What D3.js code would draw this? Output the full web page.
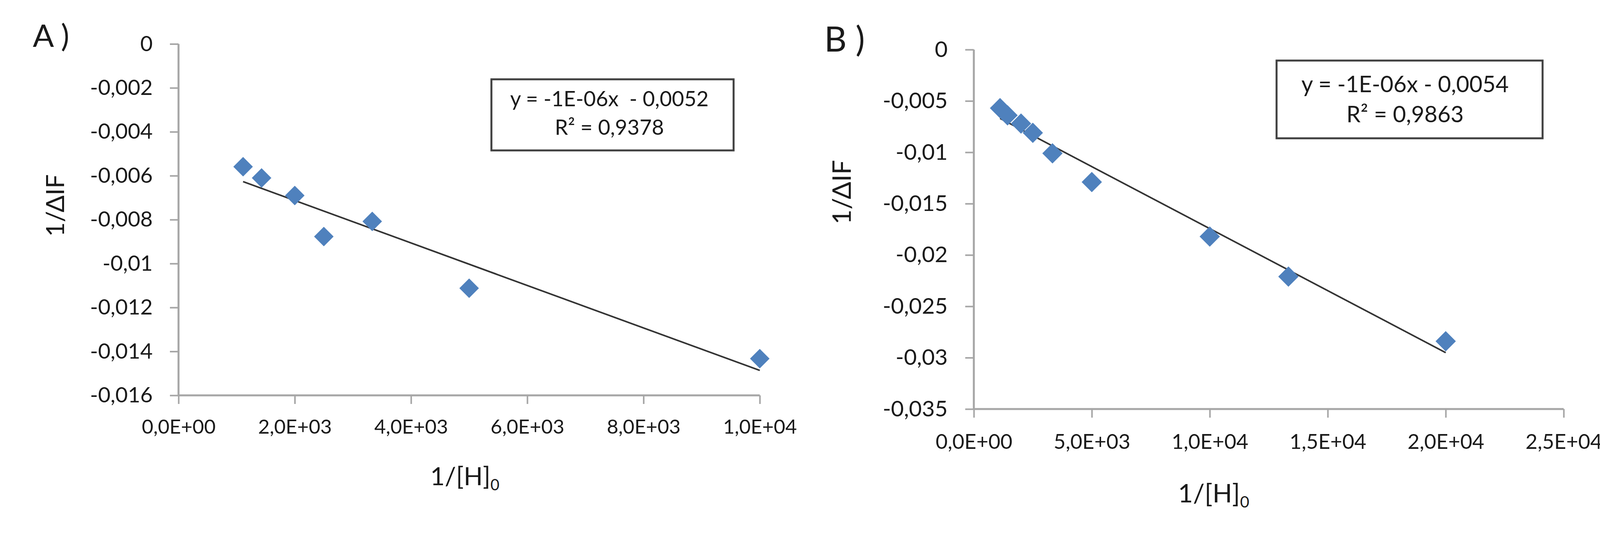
<!DOCTYPE html>
<html>
<head>
<meta charset="utf-8">
<script src="https://cdn.jsdelivr.net/npm/d3@7/dist/d3.min.js"></script>
<style>
  html, body { margin: 0; padding: 0; background: #ffffff; }
  svg { display: block; font-family: Lato, "Open Sans", "Liberation Sans", sans-serif; }
  text { white-space: pre; }
</style>
</head>
<body>
<svg id="chart" width="4268" height="1372"></svg>
<script>
// ---------------- data ----------------
const panelLabels = ["A )", "B )"];

const xA = [1111, 1429, 2000, 2500, 3333, 5000, 10000];
const yA = [-0.00559, -0.0061, -0.0069, -0.00877, -0.00808, -0.01112, -0.01433];

const xB = [1111, 1429, 2000, 2500, 3333, 5000, 10000, 13333, 20000];
const yB = [-0.0057, -0.0064, -0.0072, -0.0081, -0.0101, -0.0129, -0.0182, -0.0221, -0.0284];

const xTicksA = [0, 2000, 4000, 6000, 8000, 10000];
const yTicksA = [0, -0.002, -0.004, -0.006, -0.008, -0.01, -0.012, -0.014, -0.016];
const xTicksB = [0, 5000, 10000, 15000, 20000, 25000];
const yTicksB = [0, -0.005, -0.01, -0.015, -0.02, -0.025, -0.03, -0.035];

const equationA = ["y = -1E-06x  - 0,0052", "R\u00B2 = 0,9378"];
const equationB = ["y = -1E-06x - 0,0054", "R\u00B2 = 0,9863"];

const xTitle = "1/[H]";
const xTitleSub = "0";
const yTitle = "1/\u0394IF";

// ---------------- helpers ----------------
const locale = d3.formatLocale({decimal: ",", thousands: ".", grouping: [3], currency: ["", ""], minus: "-"});
const fmtY = v => v === 0 ? "0" : locale.format("~r")(v);
const fmtX = v => {
  const s = v.toExponential(1);          // e.g. 2.0e+3
  const [m, e] = s.split("e");
  const sign = e[0] === "-" ? "-" : "+";
  const ex = String(Math.abs(+e)).padStart(2, "0");
  return m.replace(".", ",") + "E" + sign + ex;
};

const diamond = {
  draw(ctx, size) {
    const r = Math.sqrt(size / 2);
    ctx.moveTo(0, -r); ctx.lineTo(r, 0); ctx.lineTo(0, r); ctx.lineTo(-r, 0); ctx.closePath();
  }
};

function linreg(xs, ys) {
  const mx = d3.mean(xs), my = d3.mean(ys);
  let sxy = 0, sxx = 0;
  xs.forEach((x, i) => { sxy += (x - mx) * (ys[i] - my); sxx += (x - mx) * (x - mx); });
  const b = sxy / sxx;
  return {slope: b, intercept: my - b * mx};
}

const svg = d3.select("#chart");
svg.append("rect").attr("width", 4268).attr("height", 1372).attr("fill", "#ffffff");

const AXIS = "#a6a6a6";
const TEXT = "#1a1a1a";
const MARK = "#4f81bd";

function drawPanel(cfg) {
  const g = svg.append("g");
  const x = d3.scaleLinear().domain(cfg.xDomain).range([cfg.left, cfg.right]);
  const y = d3.scaleLinear().domain(cfg.yDomain).range([cfg.bottom, cfg.top]);

  // y axis
  const ya = g.append("g").attr("transform", `translate(${cfg.left},0)`)
    .call(d3.axisLeft(y).tickValues(cfg.yTicks).tickFormat(fmtY).tickSize(22).tickPadding(cfg.yPad));
  // x axis
  const xa = g.append("g").attr("transform", `translate(0,${cfg.bottom})`)
    .call(d3.axisBottom(x).tickValues(cfg.xTicks).tickFormat(fmtX).tickSize(22).tickPadding(cfg.xPad));

  [ya, xa].forEach(a => {
    a.select(".domain").attr("stroke", AXIS).attr("stroke-width", 5);
    a.selectAll(".tick line").attr("stroke", AXIS).attr("stroke-width", 4);
    a.selectAll(".tick text").attr("fill", TEXT).attr("font-family", "Lato");
  });
  ya.selectAll(".tick text").attr("font-size", cfg.yFont);
  xa.selectAll(".tick text").attr("font-size", cfg.xFont);
  // remove the outer tick stubs so only real ticks show
  ya.select(".domain").attr("d", `M0,${cfg.bottom}V${cfg.top}`);
  xa.select(".domain").attr("d", `M${cfg.left},0H${cfg.right}`);

  // trend line (least squares from data)
  const fit = linreg(cfg.xs, cfg.ys);
  const x0 = d3.min(cfg.xs), x1 = d3.max(cfg.xs);
  g.append("line")
    .attr("x1", x(x0)).attr("y1", y(fit.intercept + fit.slope * x0))
    .attr("x2", x(x1)).attr("y2", y(fit.intercept + fit.slope * x1))
    .attr("stroke", "#333333").attr("stroke-width", 4);

  // points
  g.selectAll("path.pt").data(cfg.xs.map((v, i) => [v, cfg.ys[i]])).join("path")
    .attr("class", "pt")
    .attr("transform", d => `translate(${x(d[0])},${y(d[1])})`)
    .attr("d", d3.symbol().type(diamond).size(2 * cfg.r * cfg.r))
    .attr("fill", MARK);

  // equation box
  g.append("rect")
    .attr("x", cfg.box[0]).attr("y", cfg.box[1])
    .attr("width", cfg.box[2] - cfg.box[0]).attr("height", cfg.box[3] - cfg.box[1])
    .attr("fill", "#ffffff").attr("stroke", "#404040").attr("stroke-width", 5);
  cfg.eq.forEach((t, i) => {
    g.append("text").attr("x", cfg.eqX).attr("y", cfg.eqY[i])
      .attr("text-anchor", "middle").attr("font-size", cfg.eqFont)
      .attr("fill", TEXT).text(t);
  });

  // axis titles
  const xt = g.append("text").attr("x", cfg.xTitlePos[0]).attr("y", cfg.xTitlePos[1])
    .attr("text-anchor", "middle").attr("font-size", cfg.titleFont).attr("fill", TEXT);
  xt.append("tspan").text(xTitle);
  xt.append("tspan").attr("font-size", cfg.titleFont * 0.62).attr("dy", cfg.titleFont * 0.2).text(xTitleSub);

  g.append("text")
    .attr("transform", `translate(${cfg.yTitlePos[0]},${cfg.yTitlePos[1]}) rotate(-90)`)
    .attr("text-anchor", "middle").attr("font-size", cfg.titleFont).attr("fill", TEXT)
    .text(yTitle);

  // panel label
  g.append("text").attr("x", cfg.labelPos[0]).attr("y", cfg.labelPos[1])
    .attr("font-size", cfg.labelFont).attr("fill", TEXT).text(cfg.label);
}

drawPanel({
  xs: xA, ys: yA, xTicks: xTicksA, yTicks: yTicksA,
  xDomain: [0, 10000], yDomain: [-0.016, 0],
  left: 457, right: 1945, top: 112.5, bottom: 1012,
  yPad: 44, xPad: 40, yFont: 55, xFont: 51, r: 25,
  box: [1258, 203, 1878, 385], eq: equationA, eqX: 1560, eqY: [272, 345], eqFont: 54,
  titleFont: 64, xTitlePos: [1190, 1242], yTitlePos: [164, 526],
  label: panelLabels[0], labelPos: [84, 120], labelFont: 80
});

drawPanel({
  xs: xB, ys: yB, xTicks: xTicksB, yTicks: yTicksB,
  xDomain: [0, 25000], yDomain: [-0.035, 0],
  left: 2493, right: 4003, top: 127, bottom: 1047,
  yPad: 45, xPad: 42, yFont: 57, xFont: 53, r: 26,
  box: [3268, 155, 3949, 354], eq: equationB, eqX: 3597, eqY: [236, 313], eqFont: 58,
  titleFont: 66, xTitlePos: [3107, 1286], yTitlePos: [2178, 492],
  label: panelLabels[1], labelPos: [2110, 132], labelFont: 89
});
</script>
</body>
</html>
